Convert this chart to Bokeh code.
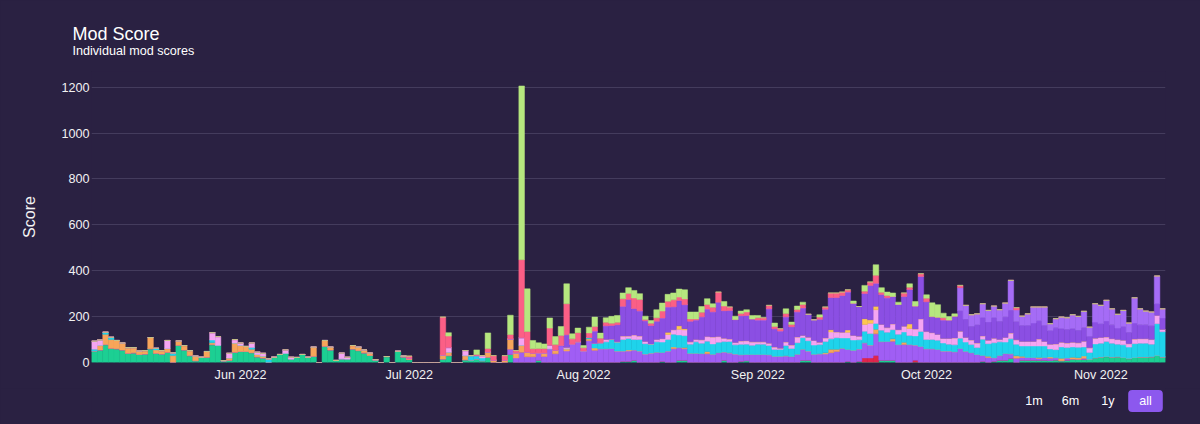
import datetime as dt
import re
import sys
from bokeh.plotting import figure
from bokeh.layouts import column
from bokeh.models import (ColumnDataSource, Range1d, FixedTicker, MonthsTicker,
                          DatetimeTickFormatter, Title, Label)
from bokeh.core.properties import value
from bokeh.embed import file_html
from bokeh.resources import INLINE

# ---------------- data (one bar per day, first day 2022-05-06) ----------------
first_day = dt.datetime(2022, 5, 6)

green = [
    50, 55, 78, 62, 60, 55, 40, 42, 35, 37,
    60, 40, 37, 45, 0, 75, 55, 30, 8, 23,
    23, 78, 75, 8, 10, 45, 48, 48, 43, 25,
    20, 0, 23, 35, 40, 15, 22, 35, 23, 27,
    0, 71, 55, 9, 16, 15, 59, 52, 42, 31,
    12, 0, 26, 0, 49, 24, 13, 0, 0, 0,
    0, 0, 15, 30, 0, 0, 12, 10, 15, 8,
    23, 0, 0, 0, 35, 0, 0, 0, 0, 10,
    0, 0, 0, 0, 0, 0, 0, 0, 0, 0,
    0, 0, 0, 0, 5, 5, 10, 0, 0, 0,
    0, 5, 0, 0, 10, 10, 0, 0, 0, 0,
    0, 0, 10, 0, 0, 5, 8, 0, 0, 0,
    0, 0, 0, 0, 0, 0, 10, 10, 0, 0,
    0, 0, 0, 0, 5, 0, 5, 0, 0, 0,
    10, 10, 10, 0, 0, 0, 0, 0, 0, 0,
    0, 0, 0, 0, 0, 0, 0, 0, 5, 0,
    5, 10, 10, 18, 0, 10, 10, 10, 10, 10,
    9, 11, 8, 10, 15, 14, 13, 14, 21, 24,
    26, 24, 25, 22, 17, 22, 24, 24, 25, 31,
    24]

crimson = [
    0, 0, 0, 0, 0, 0, 0, 0, 0, 0,
    0, 0, 0, 0, 0, 0, 0, 0, 0, 0,
    0, 0, 0, 0, 0, 0, 0, 0, 0, 0,
    0, 0, 0, 0, 0, 0, 0, 0, 0, 0,
    0, 0, 0, 0, 0, 0, 0, 0, 0, 0,
    0, 0, 0, 0, 0, 0, 0, 0, 0, 0,
    0, 0, 0, 0, 0, 0, 0, 0, 0, 0,
    0, 0, 0, 0, 0, 0, 0, 0, 0, 0,
    0, 0, 0, 0, 0, 0, 0, 0, 0, 0,
    0, 0, 0, 0, 0, 0, 0, 0, 0, 0,
    0, 0, 0, 0, 0, 0, 0, 0, 0, 0,
    0, 0, 0, 0, 0, 0, 0, 0, 0, 0,
    0, 0, 0, 0, 0, 0, 0, 0, 0, 0,
    0, 0, 0, 0, 0, 0, 0, 20, 20, 30,
    0, 0, 0, 0, 0, 0, 10, 0, 0, 0,
    0, 0, 0, 0, 0, 0, 0, 0, 0, 0,
    0, 0, 0, 0, 0, 0, 0, 0, 0, 0,
    0, 0, 0, 0, 0, 0, 0, 0, 0, 0,
    0, 0, 0, 0, 0, 0, 0, 0, 0, 0,
    0]

purple_low = [
    0, 0, 0, 0, 0, 0, 0, 0, 0, 0,
    0, 0, 0, 0, 0, 0, 0, 0, 0, 0,
    0, 0, 0, 0, 0, 0, 0, 0, 0, 0,
    0, 0, 0, 0, 0, 0, 0, 0, 0, 0,
    0, 0, 0, 0, 0, 0, 0, 0, 0, 0,
    0, 0, 0, 0, 0, 0, 0, 0, 0, 0,
    0, 0, 0, 0, 0, 0, 0, 0, 0, 0,
    0, 0, 0, 0, 23, 20, 45, 25, 25, 31,
    26, 60, 38, 74, 50, 80, 90, 50, 95, 53,
    60, 60, 61, 50, 45, 45, 45, 50, 37, 41,
    45, 39, 50, 60, 55, 50, 40, 40, 39, 38,
    36, 43, 36, 42, 37, 29, 27, 35, 35, 35,
    34, 27, 27, 29, 26, 36, 48, 40, 36, 38,
    37, 43, 48, 62, 52, 53, 54, 66, 56, 95,
    81, 82, 83, 78, 78, 78, 66, 70, 60, 60,
    57, 50, 50, 47, 61, 49, 43, 35, 26, 22,
    16, 20, 29, 20, 19, 12, 12, 12, 7, 12,
    10, 10, 0, 10, 0, 0, 5, 0, 0, 0,
    0, 0, 0, 0, 0, 0, 0, 0, 0, 0,
    0]

orange = [
    0, 20, 45, 38, 36, 30, 25, 23, 15, 15,
    49, 15, 15, 16, 30, 19, 19, 22, 20, 0,
    25, 8, 0, 0, 10, 40, 27, 22, 15, 10,
    8, 0, 0, 0, 0, 0, 0, 0, 0, 40,
    0, 25, 12, 0, 0, 0, 15, 15, 13, 10,
    0, 0, 0, 0, 0, 4, 5, 0, 0, 0,
    0, 0, 18, 15, 0, 0, 18, 0, 0, 0,
    23, 10, 0, 10, 44, 22, 30, 20, 15, 0,
    15, 0, 15, 0, 10, 0, 0, 0, 8, 10,
    0, 0, 0, 0, 0, 5, 0, 0, 0, 0,
    0, 0, 0, 8, 0, 5, 0, 0, 0, 10,
    0, 0, 0, 0, 0, 0, 0, 0, 0, 0,
    0, 0, 0, 0, 0, 0, 0, 0, 0, 0,
    5, 15, 10, 0, 0, 0, 0, 0, 0, 20,
    0, 0, 10, 0, 10, 0, 0, 0, 0, 0,
    0, 0, 0, 0, 0, 0, 0, 0, 0, 5,
    0, 0, 0, 0, 10, 5, 0, 0, 5, 0,
    5, 0, 10, 0, 8, 7, 10, 0, 0, 0,
    0, 0, 0, 0, 0, 0, 0, 0, 0, 0,
    0]

cyan = [
    8, 0, 9, 10, 0, 0, 0, 0, 0, 0,
    0, 7, 0, 0, 12, 0, 0, 0, 0, 0,
    0, 12, 0, 0, 0, 0, 0, 0, 7, 0,
    0, 16, 0, 0, 0, 0, 0, 0, 0, 0,
    0, 0, 0, 0, 0, 0, 0, 0, 0, 0,
    0, 0, 0, 0, 0, 0, 0, 0, 0, 0,
    0, 0, 0, 0, 0, 0, 0, 20, 15, 12,
    0, 0, 0, 0, 0, 0, 0, 0, 0, 0,
    0, 0, 0, 0, 0, 0, 0, 0, 6, 20,
    26, 30, 40, 40, 50, 50, 45, 50, 45, 40,
    45, 45, 50, 55, 55, 52, 40, 50, 45, 45,
    45, 45, 45, 50, 40, 45, 45, 40, 45, 45,
    40, 30, 30, 45, 35, 50, 50, 45, 40, 40,
    50, 45, 50, 45, 50, 45, 40, 50, 50, 25,
    50, 40, 40, 45, 45, 40, 40, 65, 40, 40,
    40, 35, 30, 30, 45, 40, 35, 30, 70, 55,
    65, 60, 50, 65, 50, 45, 50, 50, 50, 50,
    35, 35, 50, 45, 45, 45, 40, 30, 60, 60,
    65, 60, 55, 55, 50, 60, 60, 60, 55, 138,
    110]

pink = [
    35, 23, 0, 0, 0, 0, 0, 0, 0, 0,
    0, 0, 0, 35, 0, 0, 0, 0, 0, 0,
    0, 32, 38, 0, 20, 15, 10, 0, 20, 10,
    12, 0, 0, 0, 15, 8, 0, 0, 0, 0,
    0, 0, 0, 0, 25, 8, 0, 0, 0, 0,
    0, 0, 0, 0, 0, 0, 0, 0, 0, 0,
    0, 0, 0, 20, 0, 0, 22, 0, 0, 10,
    0, 0, 0, 0, 0, 0, 33, 0, 0, 0,
    0, 15, 0, 0, 5, 0, 0, 0, 0, 0,
    0, 10, 0, 0, 15, 10, 20, 15, 10, 0,
    10, 15, 22, 20, 25, 25, 10, 10, 15, 20,
    30, 25, 15, 10, 10, 15, 15, 15, 10, 10,
    10, 10, 5, 15, 15, 25, 10, 15, 20, 10,
    15, 30, 25, 25, 25, 20, 15, 30, 45, 60,
    25, 20, 25, 20, 25, 30, 30, 55, 35, 30,
    25, 20, 25, 30, 30, 20, 20, 20, 15, 15,
    20, 10, 20, 25, 20, 20, 20, 20, 30, 20,
    20, 25, 20, 20, 20, 20, 25, 20, 25, 25,
    20, 20, 20, 20, 15, 20, 20, 20, 20, 36,
    10]

yellow = [
    0, 0, 0, 0, 0, 0, 0, 0, 0, 0,
    0, 0, 0, 0, 0, 0, 0, 0, 0, 0,
    0, 0, 0, 0, 0, 0, 0, 0, 0, 0,
    0, 0, 0, 0, 0, 0, 0, 0, 0, 0,
    0, 0, 0, 0, 0, 0, 0, 0, 0, 0,
    0, 0, 0, 0, 0, 0, 0, 0, 0, 0,
    0, 0, 0, 0, 0, 0, 0, 0, 0, 0,
    0, 0, 0, 0, 0, 0, 0, 0, 0, 0,
    0, 0, 0, 0, 0, 0, 0, 0, 0, 0,
    0, 0, 0, 0, 0, 0, 0, 0, 0, 0,
    0, 0, 10, 0, 15, 5, 0, 0, 0, 0,
    0, 0, 0, 0, 0, 0, 0, 0, 0, 0,
    0, 0, 0, 0, 0, 0, 0, 0, 0, 0,
    0, 10, 0, 0, 10, 0, 0, 25, 15, 15,
    0, 0, 0, 0, 0, 20, 0, 0, 0, 0,
    0, 0, 0, 0, 0, 0, 0, 0, 0, 0,
    0, 0, 0, 0, 0, 0, 0, 0, 0, 0,
    0, 0, 0, 0, 0, 0, 0, 0, 0, 0,
    0, 0, 0, 0, 0, 0, 0, 0, 0, 0,
    0]

purple_mid = [
    0, 0, 0, 0, 0, 0, 0, 0, 0, 0,
    0, 0, 0, 0, 0, 0, 0, 0, 0, 0,
    0, 0, 0, 0, 0, 0, 0, 0, 0, 0,
    0, 0, 0, 0, 0, 0, 0, 0, 0, 0,
    0, 0, 0, 0, 0, 0, 0, 0, 0, 0,
    0, 0, 0, 0, 0, 0, 0, 0, 0, 0,
    0, 0, 0, 0, 0, 0, 0, 0, 0, 0,
    0, 0, 0, 0, 0, 0, 0, 0, 0, 0,
    0, 0, 0, 0, 56, 0, 0, 0, 0, 54,
    0, 60, 60, 75, 130, 160, 115, 110, 90, 80,
    80, 90, 110, 100, 110, 105, 90, 85, 100, 120,
    110, 150, 120, 125, 100, 110, 110, 100, 95, 95,
    150, 80, 75, 110, 80, 110, 120, 100, 90, 100,
    125, 140, 150, 160, 165, 140, 130, 110, 150, 100,
    130, 130, 120, 110, 130, 150, 100, 185, 130, 70,
    75, 80, 80, 95, 90, 80, 60, 80, 80, 80,
    90, 80, 90, 100, 80, 70, 70, 80, 80, 70,
    60, 70, 60, 60, 60, 55, 60, 50, 70, 60,
    70, 60, 50, 60, 50, 70, 60, 60, 60, 51,
    50]

purple_top = [
    0, 0, 0, 0, 0, 0, 0, 0, 0, 0,
    0, 0, 0, 0, 0, 0, 0, 0, 0, 0,
    0, 0, 0, 0, 0, 0, 0, 0, 0, 0,
    0, 0, 0, 0, 0, 0, 0, 0, 0, 0,
    0, 0, 0, 0, 0, 0, 0, 0, 0, 0,
    0, 0, 0, 0, 0, 0, 0, 0, 0, 0,
    0, 0, 0, 0, 0, 0, 0, 0, 0, 0,
    0, 0, 0, 0, 0, 0, 0, 0, 0, 0,
    0, 0, 0, 0, 0, 0, 0, 0, 0, 0,
    0, 0, 0, 0, 0, 0, 0, 0, 0, 0,
    0, 0, 0, 0, 0, 0, 0, 0, 0, 0,
    0, 0, 0, 0, 0, 0, 0, 0, 0, 0,
    0, 0, 0, 0, 0, 0, 0, 0, 0, 0,
    0, 0, 0, 0, 0, 0, 0, 0, 0, 0,
    0, 0, 0, 0, 0, 0, 0, 0, 0, 0,
    0, 0, 0, 0, 100, 60, 50, 47, 60, 50,
    50, 50, 60, 130, 50, 40, 50, 70, 60, 80,
    30, 40, 50, 50, 60, 60, 70, 40, 80, 80,
    90, 70, 60, 70, 40, 110, 70, 60, 60, 121,
    40]

rose = [
    0, 0, 0, 0, 0, 0, 0, 0, 0, 0,
    0, 0, 0, 0, 0, 0, 0, 0, 0, 0,
    0, 0, 0, 0, 0, 0, 0, 0, 0, 0,
    0, 0, 0, 0, 0, 0, 0, 0, 0, 0,
    0, 0, 0, 0, 0, 0, 0, 0, 0, 0,
    0, 0, 0, 0, 0, 0, 10, 0, 0, 0,
    0, 0, 165, 50, 0, 0, 0, 0, 5, 0,
    15, 20, 0, 20, 20, 10, 340, 90, 20, 20,
    20, 75, 25, 44, 135, 23, 40, 14, 20, 20,
    20, 15, 10, 10, 33, 26, 46, 50, 5, 10,
    15, 30, 25, 30, 15, 25, 10, 5, 20, 20,
    20, 44, 20, 15, 0, 10, 15, 0, 10, 10,
    15, 10, 10, 15, 10, 10, 15, 0, 0, 10,
    10, 20, 20, 15, 10, 0, 0, 10, 15, 35,
    10, 10, 0, 0, 15, 10, 0, 12, 15, 0,
    0, 10, 0, 0, 10, 0, 0, 0, 0, 0,
    0, 0, 0, 0, 10, 0, 0, 0, 0, 0,
    0, 0, 0, 0, 0, 0, 0, 0, 0, 0,
    0, 0, 0, 0, 0, 0, 0, 0, 0, 0,
    0]

lime = [
    0, 0, 0, 0, 0, 0, 0, 0, 0, 0,
    0, 0, 0, 0, 0, 0, 0, 0, 0, 0,
    0, 0, 0, 0, 0, 0, 0, 0, 0, 0,
    0, 0, 0, 0, 0, 0, 0, 0, 0, 0,
    0, 0, 0, 0, 0, 0, 0, 0, 0, 0,
    0, 0, 0, 0, 0, 0, 0, 0, 0, 0,
    0, 0, 0, 15, 0, 0, 0, 0, 20, 0,
    68, 0, 0, 0, 84, 0, 757, 186, 36, 25,
    20, 44, 35, 39, 87, 22, 20, 10, 25, 41,
    22, 20, 30, 30, 25, 25, 33, 25, 15, 12,
    35, 35, 30, 30, 35, 40, 30, 30, 25, 25,
    15, 0, 20, 0, 15, 10, 10, 15, 10, 0,
    0, 15, 0, 20, 10, 15, 10, 0, 0, 10,
    0, 0, 0, 0, 0, 10, 0, 25, 0, 46,
    20, 15, 15, 10, 0, 15, 20, 0, 15, 60,
    55, 20, 15, 10, 0, 0, 0, 0, 0, 0,
    0, 0, 0, 0, 0, 0, 0, 0, 0, 0,
    0, 0, 0, 0, 0, 0, 0, 0, 0, 0,
    0, 0, 0, 0, 0, 0, 0, 0, 0, 0,
    0]

y_ticks = [0, 200, 400, 600, 800, 1000, 1200]
range_buttons = ["1m", "6m", "1y", "all"]

series_names = ["green", "crimson", "purple_low", "orange", "cyan", "pink",
                "yellow", "purple_mid", "purple_top", "rose", "lime"]
series_values = [green, crimson, purple_low, orange, cyan, pink,
                 yellow, purple_mid, purple_top, rose, lime]
series_colors = ["#1ccf93", "#e0264c", "#a05ef4", "#f7a55a", "#1fd3eb", "#f5a5f2",
                 "#fdc64f", "#8b4fe3", "#a56cf6", "#fb5f86", "#b6e77f"]

# ---------------- build ----------------
n_days = len(green)
for nm, vals in zip(series_names, series_values):
    if len(vals) != n_days:
        print("length mismatch", nm, len(vals), file=sys.stderr)
        del vals[n_days:]
        vals.extend([0] * (n_days - len(vals)))

dates = [first_day + dt.timedelta(days=i) for i in range(n_days)]
data = {"x": dates}
for nm, vals in zip(series_names, series_values):
    data[nm] = vals
source = ColumnDataSource(data)

BG = "#2a2142"
FONT = "Liberation Sans"
TXT = "#f2f2f2"
half_day = dt.timedelta(hours=12)
x0 = dates[0] - half_day
x1 = dates[-1] + half_day

W = 1200
H_MAIN, H_BTN = 388, 36
FRAME_L, FRAME_R = 91, 1165

p = figure(width=W, height=H_MAIN, x_axis_type="datetime",
           x_range=Range1d(x0, x1), y_range=Range1d(0, 1268),
           output_backend="svg", toolbar_location=None,
           min_border_left=FRAME_L, min_border_right=W - FRAME_R,
           min_border_top=71, min_border_bottom=26)
p.background_fill_color = BG
p.border_fill_color = BG
p.outline_line_color = None
p.outline_line_alpha = 0

p.vbar_stack(series_names, x="x", width=86400000, color=series_colors,
             source=source, line_width=0.5)

# titles
sub = Title(text="Individual mod scores", text_font=FONT, text_font_size="12.6px",
            text_font_style="normal", text_color="#ffffff", align="left",
            offset=-19, standoff=27)
p.add_layout(sub, "above")
main = Title(text="Mod Score", text_font=FONT, text_font_size="18px",
             text_font_style="normal", text_color="#ffffff", align="left",
             offset=-19, standoff=0)
try:
    main.standoff = -30
except Exception:
    pass
p.add_layout(main, "above")

# axes
p.xaxis.ticker = MonthsTicker(months=list(range(12)))
p.xaxis.formatter = DatetimeTickFormatter(months="%b %Y", days="%b %Y", years="%b %Y")
p.xaxis.major_label_text_font = FONT
p.xaxis.major_label_text_font_size = "12.6px"
p.xaxis.major_label_text_color = TXT
p.xaxis.axis_line_color = None
p.xaxis.major_tick_line_color = None
p.xaxis.minor_tick_line_color = None
p.xaxis.major_tick_out = 0
p.xaxis.minor_tick_out = 0
p.xaxis.major_label_standoff = 5

p.yaxis.ticker = FixedTicker(ticks=y_ticks)
p.yaxis.major_label_text_font = FONT
p.yaxis.major_label_text_font_size = "12.6px"
p.yaxis.major_label_text_color = TXT
p.yaxis.axis_line_color = None
p.yaxis.major_tick_line_color = None
p.yaxis.minor_tick_line_color = None
p.yaxis.major_tick_out = 0
p.yaxis.minor_tick_out = 0
p.yaxis.major_label_standoff = 2
p.yaxis.axis_label = "Score"
p.yaxis.axis_label_text_font = FONT
p.yaxis.axis_label_text_font_size = "16px"
p.yaxis.axis_label_text_font_style = "normal"
p.yaxis.axis_label_text_color = TXT
p.yaxis.axis_label_standoff = 20

p.xgrid.grid_line_color = None
p.ygrid.ticker = FixedTicker(ticks=y_ticks)
p.ygrid.grid_line_color = "#443c5d"
p.ygrid.grid_line_width = 1

# ---------------- range selector strip (frame aligned with main frame) ----------------
pb = figure(width=W, height=H_BTN, x_range=Range1d(FRAME_L, FRAME_R),
            y_range=Range1d(H_MAIN + H_BTN, H_MAIN),
            output_backend="svg", toolbar_location=None,
            x_axis_location=None, y_axis_location=None,
            min_border_left=FRAME_L, min_border_right=W - FRAME_R,
            min_border_top=0, min_border_bottom=0)
pb.background_fill_color = BG
pb.border_fill_color = BG
pb.outline_line_color = None
pb.outline_line_alpha = 0
pb.grid.grid_line_color = None

btn_x = [1033.5, 1070.0, 1107.5, 1145.0]
btn_y = 400.5
all_lab = dict(x=btn_x[3], y=btn_y, text=range_buttons[3], text_font=FONT,
               text_font_size="12.6px", text_color="#ffffff",
               text_align="center", text_baseline="middle")
try:
    lab = Label(**all_lab, background_fill_color="#8c58ee", border_radius=4,
                padding=dict(left=11, right=11, top=4, bottom=4))
except Exception:
    lab = Label(**all_lab, background_fill_color="#8c58ee")
pb.add_layout(lab)
pb.text(x=btn_x[:3], y=[btn_y] * 3, text=range_buttons[:3],
        text_font=value(FONT), text_font_size="12.6px", text_color="#ffffff",
        text_align="center", text_baseline="middle")

layout = column(p, pb, spacing=0)
html = file_html(layout, INLINE, title="Mod Score")
style = "<style>html, body {background-color: %s; margin: 0;}</style>" % BG
html = html.replace("</head>", style + "</head>", 1)
html = re.sub(r"<body([^>]*)>", r'<body\1 style="background-color:%s;">' % BG, html, count=1)
open("out.html", "w").write(html)
